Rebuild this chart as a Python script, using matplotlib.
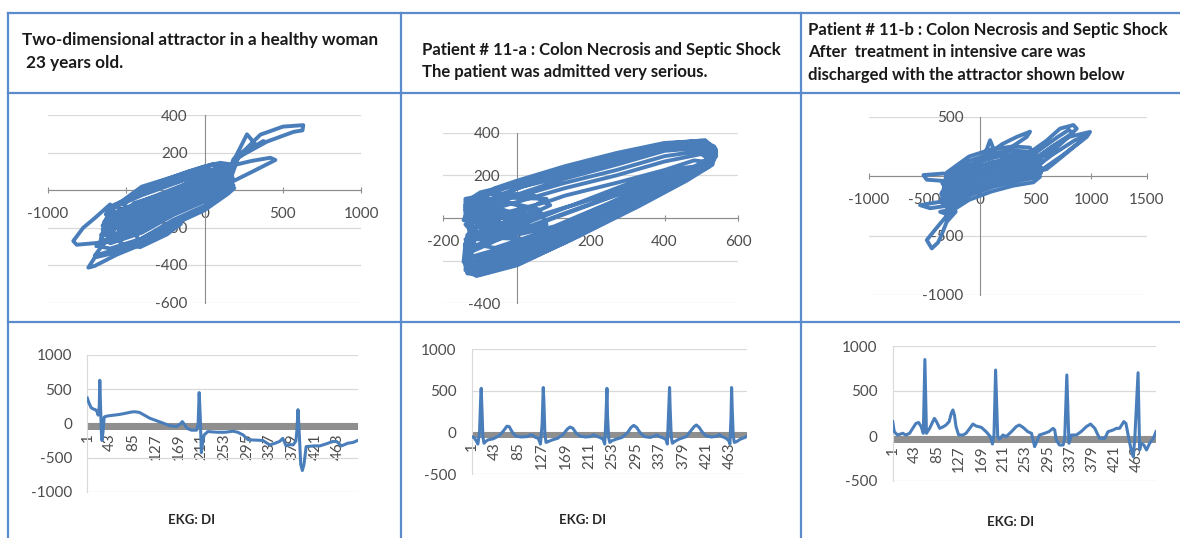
import matplotlib
matplotlib.use("Agg")
import matplotlib.pyplot as plt
from matplotlib.lines import Line2D

plt.rcParams["axes.unicode_minus"] = False

W, H = 1180, 538
FONT = ["Lato", "DejaVu Sans"]
BLUE = "#4a7ebb"
BORDER = "#5b8bcb"
GRID = "#d9d9d9"
AXIS = "#8c8c8c"
LABEL = "#4d4d4d"

# ---------------------------------------------------------------- headers
titles = [
    ["Two-dimensional attractor in a healthy woman", " 23 years old."],
    ["Patient # 11-a : Colon Necrosis and Septic Shock",
     "The patient was admitted very serious."],
    ["Patient # 11-b : Colon Necrosis and Septic Shock",
     "After  treatment in intensive care was",
     "discharged with the attractor shown below"],
]

# ---------------------------------------------------------------- EKG lead DI (sample, amplitude)
ekg_ticks = [1, 43, 85, 127, 169, 211, 253, 295, 337, 379, 421, 463]

ekg_healthy = [
    (1, 370), (4, 300), (8, 230), (12, 210), (16, 200), (19, 170), (21, 120),
    (23, 250), (24, 630), (25, 350), (27, -150), (28, -250), (30, -120),
    (32, 90), (34, 100), (40, 110), (50, 120), (60, 130), (70, 145), (82, 165),
    (88, 170), (97, 160), (106, 120), (116, 75), (128, 40), (140, 5),
    (153, -35), (165, -45), (172, -10), (176, 25), (180, -20), (185, -75),
    (193, -100), (202, -100), (205, -20), (207, 450), (209, 100), (211, -430),
    (213, -300), (216, -170), (223, -120), (240, -130), (255, -130),
    (269, -115), (278, -130), (288, -170), (297, -240), (310, -245),
    (324, -250), (337, -315), (347, -290), (355, -265), (361, -220),
    (367, -330), (373, -310), (380, -315), (385, -260), (387, -100),
    (389, 200), (391, -100), (394, -600), (397, -690), (400, -600),
    (404, -340), (418, -330), (429, -330), (441, -300), (453, -265),
    (460, -265), (469, -330), (475, -310), (481, -290), (490, -280),
    (499, -250),
]

ekg_11a = [
    (1, -50), (5, -60), (9, -100), (12, -140), (15, 0), (17, 400), (18, 530),
    (19, 350), (21, -50), (23, -130), (26, -110), (30, -90), (40, -75),
    (50, -40), (58, 20), (64, 75), (68, 70), (74, 0), (80, -45), (90, -55),
    (100, -50), (106, -30), (110, -35), (115, -60), (120, -70), (124, -140),
    (127, 100), (129, 540), (130, 400), (132, -20), (134, -120), (138, -110),
    (145, -90), (155, -70), (165, -20), (172, 40), (177, 65), (182, 50),
    (188, -10), (195, -45), (205, -55), (213, -50), (219, -30), (224, -45),
    (230, -60), (236, -80), (239, -140), (241, 150), (243, 530), (244, 200),
    (246, -60), (248, -120), (252, -100), (260, -80), (270, -60), (280, 0),
    (286, 60), (291, 85), (296, 60), (302, 0), (310, -50), (320, -60),
    (328, -45), (332, -30), (337, -50), (345, -70), (349, -90), (351, -140),
    (353, 200), (355, 540), (356, 300), (358, -50), (360, -130), (364, -110),
    (372, -80), (385, -50), (393, 20), (399, 70), (403, 90), (408, 60),
    (414, 0), (420, -40), (430, -55), (440, -45), (444, -25), (449, -50),
    (456, -70), (461, -100), (463, -140), (465, 200), (466, 540), (467, 300),
    (469, -50), (471, -120), (475, -110), (482, -80), (490, -60), (493, -45),
]

ekg_11b = [
    (1, 160), (4, 48), (10, 11), (20, 30), (26, 11), (33, 30), (39, 85),
    (45, 140), (50, 150), (55, 104), (59, 30), (62, 850), (65, 30), (71, 85),
    (77, 160), (80, 196), (84, 160), (90, 85), (96, 100), (102, 122),
    (108, 160), (112, 252), (115, 289), (118, 233), (121, 104), (126, 11),
    (134, 11), (140, 30), (147, 85), (153, 133), (159, 111), (169, 96),
    (178, 48), (186, -7), (190, -89), (193, 11), (196, 733), (200, -7),
    (203, -37), (210, 11), (216, -7), (226, 48), (235, 104), (241, 122),
    (248, 96), (257, 48), (264, 30), (270, -118), (274, -63), (279, 11),
    (289, 30), (297, 48), (305, 85), (308, 67), (311, -44), (317, -100),
    (324, -100), (327, -26), (331, 678), (335, -81), (340, 11), (349, 11),
    (358, 48), (368, 104), (376, 133), (384, 85), (393, -26), (403, -26),
    (409, 48), (419, 67), (425, 85), (431, 85), (439, 160), (443, 140),
    (449, -44), (453, -155), (457, -230), (460, -7), (466, 703), (469, -155),
    (472, -81), (477, -100), (482, -155), (488, -81), (495, -26), (500, 48),
]

# ---------------------------------------------------------------- phase-space trajectories (x, y)
attr_healthy = [
    # long orbits along the main diagonal
    (-630, -130), (-600, -88), (-400, -13), (-200, 45), (0, 102), (150, 124),
    (175, 100), (150, 76), (0, 32), (-200, -32), (-400, -105), (-600, -172),
    (-650, -190), (-600, -130), (-400, -59), (-200, 6), (0, 66), (150, 100),
    (180, 65), (150, 36), (0, -26), (-200, -96), (-400, -182), (-600, -242),
    (-660, -240), (-600, -200), (-400, -136), (-200, -58), (0, 8), (150, 60),
    (185, 25), (150, -4), (0, -85), (-200, -160), (-400, -259), (-600, -312),
    (-680, -300), (-600, -158), (-400, -90), (-200, -20), (0, 44), (150, 84),
    # excursion to the upper right
    (185, 165), (260, 215), (356, 295), (500, 338), (630, 346), (625, 318),
    (568, 310), (398, 258), (250, 190), (185, 155), (150, 12), (0, -61),
    (-200, -134), (-400, -228), (-600, -284), (-660, -260),
    (-620, -140), (-600, -102), (-400, -28), (-200, 32), (0, 90), (150, 116),
    (175, 85), (150, 52), (0, -4), (-200, -70), (-400, -152), (-600, -214),
    # far left lobe
    (-602, -77), (-700, -150), (-773, -201), (-837, -272), (-815, -292),
    (-666, -281), (-453, -192), (-200, -83), (0, -15), (150, 44), (190, 10),
    (150, -20), (0, -108), (-200, -185), (-400, -290), (-600, -340),
    (-700, -360), (-741, -414), (-700, -405), (-560, -345), (-400, -290),
    (-560, -80), (-400, 18), (-200, 70), (0, 125), (100, 145), (160, 138),
    (150, 92), (0, 55), (-200, -7), (-400, -74), (-600, -144),
    (-650, -210), (-600, -186), (-400, -120), (-200, -45), (0, 20), (150, 68),
    # excursion with a kink, then the lower right lobe
    (200, 180), (271, 297), (334, 234), (377, 261), (300, 225), (220, 185),
    (150, 20), (0, -50), (-200, -122), (-400, -213), (-600, -270),
    (-690, -300), (-600, -256), (-400, -198), (-200, -109), (0, -38),
    (100, 60), (164, 128), (300, 155), (420, 172), (452, 160), (313, 101),
    (164, 39), (150, -12), (0, -96), (-200, -172), (-474, -290), (-411, -305),
    (-240, -237), (-150, -180), (-400, -275), (-600, -326), (-700, -350),
    (-450, -70), (-200, -7), (0, 55), (60, 80), (40, 30), (-200, -58),
    (-450, -160), (-550, -270), (-300, -170), (-100, -80), (80, 0), (60, 20),
    (-100, -30), (-300, -110), (-550, -210), (-500, -60), (-300, 20),
    (-100, 80), (50, 135), (120, 120), (-50, 60), (-250, -20), (-450, -110),
    (-620, -230), (-500, -300), (-300, -240), (-100, -140), (50, -70),
    (130, 30), (60, 140), (-100, 100), (-300, 40), (-450, -20), (-570, -90),
    (-640, -170), (-560, -200), (-350, -140), (-150, -50), (20, 40),
]

attr_11a = [
    (-130, 30), (-115, 75), (-60, 140), (0, 175), (130, 243), (270, 305),
    (400, 352), (500, 362), (535, 335), (540, 290), (520, 240), (430, 160),
    (315, 50), (134, -112), (0, -222), (-110, -272), (-140, -245),
    (-135, -170), (-120, -100), (-130, -20),
    (-125, 40), (-100, 95), (-50, 135), (0, 162), (130, 225), (270, 288),
    (400, 342), (505, 352), (535, 320), (530, 270), (440, 180), (320, 70),
    (140, -90), (0, -200), (-110, -258), (-135, -230), (-130, -150),
    (-100, -60), (-40, -30), (-80, 20),
    (-120, 10), (-90, 70), (-30, 115), (10, 145), (130, 205), (270, 270),
    (400, 330), (505, 340), (540, 305), (520, 255), (420, 170), (300, 60),
    (150, -65), (20, -170), (-100, -240), (-140, -215), (-140, -120),
    (-110, -40), (-60, 0), (-120, 30),
    (-130, 0), (-80, 40), (0, 110), (130, 185), (270, 250), (400, 315),
    (510, 330), (535, 295), (515, 240), (400, 145), (280, 50), (130, -55),
    (0, -150), (-100, -215), (-135, -200), (-138, -110), (-90, -50),
    (-20, -20), (40, 10), (-50, 30),
    (-110, 50), (-40, 90), (40, 120), (130, 165), (270, 225), (400, 290),
    (500, 315), (530, 280), (500, 230), (400, 130), (250, 10), (100, -95),
    (-20, -175), (-120, -245), (-140, -225), (-140, -150), (-115, -70),
    (-60, -50), (0, -10), (-70, 20),
    (-130, 20), (-50, 50), (50, 100), (130, 140), (270, 200), (400, 265),
    (500, 300), (525, 270), (490, 225), (380, 135), (250, 30), (110, -75),
    (-10, -160), (-115, -230), (-138, -190), (-125, -110), (-80, -70),
    (-20, -40), (30, 0), (-40, 40),
    (-120, -10), (-20, 30), (80, 75), (130, 105), (270, 165), (400, 225),
    (480, 270), (520, 262), (500, 230), (400, 160), (300, 85), (200, 15),
    (60, -90), (-40, -150), (-120, -200), (-140, -170), (-130, -90),
    (-70, -60), (10, -30), (-60, 10),
    (-130, 60), (-70, 120), (0, 155), (130, 215), (270, 280), (400, 335),
    (510, 345), (540, 300), (500, 245), (400, 200), (270, 125), (134, 50),
    (0, -40), (-100, -120), (-140, -150), (-135, -80), (-100, -20),
    (-40, 0), (-110, 45),
    (-125, 30), (-60, 100), (20, 150), (130, 195), (270, 262), (400, 320),
    (500, 330), (530, 290), (480, 240), (390, 185), (270, 110), (134, 25),
    (0, -60), (-100, -140), (-140, -170), (-130, -100), (-60, -70),
    (0, -40), (-100, 0),
    (-140, 50), (-90, 110), (-10, 165), (130, 235), (270, 300), (400, 348),
    (510, 365), (540, 320), (530, 250), (460, 175), (330, 55), (150, -100),
    (10, -210), (-100, -265), (-135, -260), (-140, -200), (-130, -130),
    (-120, -50), (-135, 10),
    (-120, 60), (-80, 120), (0, 168), (130, 230), (270, 295), (400, 345),
    (500, 355), (530, 315), (510, 255), (420, 175), (300, 80), (150, -30),
    (20, -120), (-80, -190), (-130, -230), (-140, -140), (-110, -80),
    (-50, -60), (20, -20), (-60, 50),
    (-135, 80), (-100, 120), (-30, 150), (60, 190), (200, 250), (350, 320),
    (480, 345), (525, 310), (520, 260), (450, 200), (350, 100), (200, -10),
    (60, -100), (-50, -180), (-130, -240), (-145, -205), (-140, -120),
    (-100, -80), (-140, 0),
    (-140, 90), (-60, 115), (40, 110), (90, 60), (40, 20), (-60, 0),
    (-140, -30), (-120, -70), (0, -70), (80, -30), (60, 40), (-40, 80),
    (-140, 40), (-130, -50), (-30, -20), (70, 10), (0, 60), (-100, 100),
    (-140, 60), (-100, 20), (20, 30), (80, 90), (-20, 95), (-120, 80),
    (-145, -10), (-60, -40), (40, -40), (-30, 10), (-130, -60),
    (-100, -90), (30, -100), (200, -5), (350, 120), (470, 215), (520, 250),
    (430, 230), (300, 160), (150, 60), (0, -20), (-90, -30),
    # extra passes through the lower band
    (-30, -90), (100, -40), (250, 70), (400, 190), (500, 240), (420, 200),
    (250, 95), (100, 0), (-50, -100), (-140, -100), (-120, -180), (0, -120),
    (134, -40), (270, 70), (420, 190), (520, 250), (450, 180), (300, 40),
    (150, -60), (0, -170), (-120, -230), (-90, -170), (50, -110),
    (200, 20), (350, 140), (480, 225), (380, 150), (220, 45), (80, -60),
    (-60, -140), (-130, -120),
]

attr_11b = [
    # core orbits
    (-330, -60), (-300, -40), (-100, 92), (100, 154), (300, 184), (500, 176),
    (560, 120), (500, 68), (300, 52), (100, 12), (-100, -54), (-300, -180),
    (-350, -150), (-340, -130), (-300, -110), (-100, 19), (100, 83),
    (300, 118), (500, 122), (560, 60), (500, 14), (300, -14), (100, -59),
    (-100, -127), (-300, -250), (-350, -220), (-300, 30), (-100, 165),
    (100, 225), (300, 250), (450, 240), (470, 180), (300, 118), (100, 83),
    (-100, 19), (-300, -110), (-340, -60),
    # upper right lobes
    (300, 100), (450, 200), (600, 300), (720, 400), (840, 430), (870, 400),
    (780, 316), (700, 250), (600, 180), (450, 110), (350, 60), (500, 150),
    (650, 250), (800, 330), (990, 372), (960, 330), (850, 250), (720, 150),
    (600, 60), (450, 20),
    (-320, -200), (-300, -180), (-100, -54), (100, 12), (300, 52), (500, 68),
    (540, -5), (480, -52), (300, -80), (100, -130), (-100, -200),
    (-300, -320), (-360, -300),
    # lower left tail
    (-250, -280), (-360, -400), (-420, -468), (-480, -538), (-435, -608),
    (-380, -560), (-360, -524), (-300, -384), (-220, -300),
    (-300, -75), (-100, 55), (100, 118), (300, 150), (500, 150), (540, 90),
    (500, 40), (300, 20), (100, -24), (-100, -90), (-300, -215),
    (-250, -150), (-360, -216), (-540, -244), (-450, -270), (-300, -250),
    (-300, -5), (-100, 128), (100, 190), (300, 217), (480, 200), (520, 140),
    (300, 85), (100, 47), (-100, -18), (-300, -145),
    # left lobe and spike
    (-200, 0), (-330, 22), (-510, 9), (-480, -30), (-330, -40), (-200, -60),
    (0, 100), (50, 200), (90, 302), (120, 232), (60, 178), (200, 270),
    (330, 330), (450, 374), (420, 330), (240, 218), (150, 175),
    (400, 120), (550, 230), (700, 330), (800, 390), (830, 360), (700, 280),
    (550, 180), (450, 40), (650, 180), (850, 300), (950, 340), (900, 290),
    (750, 180), (550, 50),
    (-300, -145), (-100, -18), (100, 47), (300, 85), (500, 95), (550, 30),
    (500, -13), (300, -47), (100, -94), (-100, -164), (-300, -285),
    (-200, -120), (-50, -40), (150, 60), (350, 150), (200, 180), (0, 130),
    (-150, 60), (-250, -60), (-100, -100), (100, -60), (250, 0), (100, 100),
    (-50, 40),
]

fig = plt.figure(figsize=(W / 100, H / 100), dpi=100)


def box(x0, x1, y_top, y_bot):
    """Axes placed by pixel edges (y measured from the top)."""
    return fig.add_axes([x0 / W, 1 - y_bot / H, (x1 - x0) / W, (y_bot - y_top) / H])


def style_ticks(ax):
    for lab in ax.get_xticklabels() + ax.get_yticklabels():
        lab.set_family(FONT)
        lab.set_fontsize(11)
        lab.set_color(LABEL)
        lab.set_zorder(5)


def attractor(ax, pts, xlim, ylim, xticks, yticks):
    for side in ("top", "right"):
        ax.spines[side].set_visible(False)
    for side in ("left", "bottom"):
        ax.spines[side].set_position("zero")
        ax.spines[side].set_color(AXIS)
        ax.spines[side].set_linewidth(0.8)
        ax.spines[side].set_zorder(1)
    xs, ys = zip(*pts)
    ax.plot(xs, ys, color=BLUE, lw=2.8, solid_joinstyle="round",
            solid_capstyle="round", zorder=2)
    ax.set_xlim(*xlim)
    ax.set_ylim(*ylim)
    ax.set_xticks(xticks)
    ax.set_yticks(yticks)
    ax.yaxis.grid(True, color=GRID, lw=0.9, zorder=0)
    ax.set_axisbelow(True)
    ax.tick_params(axis="x", direction="inout", length=5, width=0.8,
                   color=AXIS, pad=10)
    ax.tick_params(axis="y", length=0, pad=12)
    style_ticks(ax)
    ax.patch.set_alpha(0)


def ekg(ax, pts, ylim, yticks, bar, xmax):
    for side in ("top", "right"):
        ax.spines[side].set_visible(False)
    ax.spines["bottom"].set_position(("data", 0))
    ax.spines["bottom"].set_visible(False)
    ax.spines["left"].set_color(GRID)
    xs, ys = zip(*pts)
    ax.set_xlim(1, xmax)
    ax.set_ylim(*ylim)
    ax.axhspan(-bar, 0, color="#8f8f8f", lw=0, zorder=1)
    ax.plot(xs, ys, color=BLUE, lw=2.2, solid_joinstyle="round", zorder=3)
    ax.set_yticks(yticks)
    ax.set_xticks(ekg_ticks)
    ax.set_xticklabels([str(t) for t in ekg_ticks])
    ax.yaxis.grid(True, color=GRID, lw=0.9, zorder=0)
    ax.set_axisbelow(True)
    ax.tick_params(axis="x", length=0, pad=7, labelrotation=90)
    ax.tick_params(axis="y", length=0, pad=11)
    style_ticks(ax)
    for lab in ax.get_xticklabels():
        lab.set_verticalalignment("top")
        lab.set_horizontalalignment("center")


# middle row: attractors
a1 = box(47.7, 361.3, 115.0, 302.5)
attractor(a1, attr_healthy, (-1000, 1000), (-600, 400),
          [-1000, -500, 0, 500, 1000], [-600, -400, -200, 0, 200, 400])
a2 = box(443.3, 738.3, 132.7, 303.3)
attractor(a2, attr_11a, (-200, 600), (-400, 400),
          [-200, 0, 200, 400, 600], [-400, -200, 0, 200, 400])
a3 = box(869.0, 1146.7, 116.7, 295.0)
attractor(a3, attr_11b, (-1000, 1500), (-1000, 500),
          [-1000, -500, 0, 500, 1000, 1500], [-1000, -500, 0, 500])

# bottom row: EKG tracings
e1 = box(87.3, 358.3, 355.0, 491.7)
ekg(e1, ekg_healthy, (-1000, 1000), [-1000, -500, 0, 500, 1000], 100, 500)
e2 = box(471.7, 746.7, 349.3, 474.0)
ekg(e2, ekg_11a, (-500, 1000), [-500, 0, 500, 1000], 70, 493)
e3 = box(892.7, 1156.0, 346.0, 481.0)
ekg(e3, ekg_11b, (-500, 1000), [-500, 0, 500, 1000], 78, 500)

for cx, cy in ((192, 520), (583, 520), (1011, 522)):
    fig.text(cx / W, 1 - cy / H, "EKG: DI", family=FONT, fontsize=9.5,
             fontweight="bold", color="#262626", ha="center", va="center")

# header texts
header_pos = [(21.7, [45, 68], 12.3), (421.7, [55, 77], 12.0),
              (808.0, [35, 57, 80], 12.0)]
for lines, (x0, ys, fs) in zip(titles, header_pos):
    for text, yb in zip(lines, ys):
        fig.text(x0 / W, 1 - yb / H, text, family=FONT, fontsize=fs,
                 fontweight="bold", color="#1a1a1a", ha="left", va="baseline")

# table rules
for yy in (12.5, 93.0, 321.5):
    fig.add_artist(Line2D([8 / W, 1.0], [1 - yy / H] * 2, color=BORDER, lw=1.6))
for xx in (8.0, 400.5, 801.0):
    fig.add_artist(Line2D([xx / W] * 2, [1 - 12.5 / H, 0.0], color=BORDER, lw=1.6))

fig.savefig("out.png", dpi=100)
